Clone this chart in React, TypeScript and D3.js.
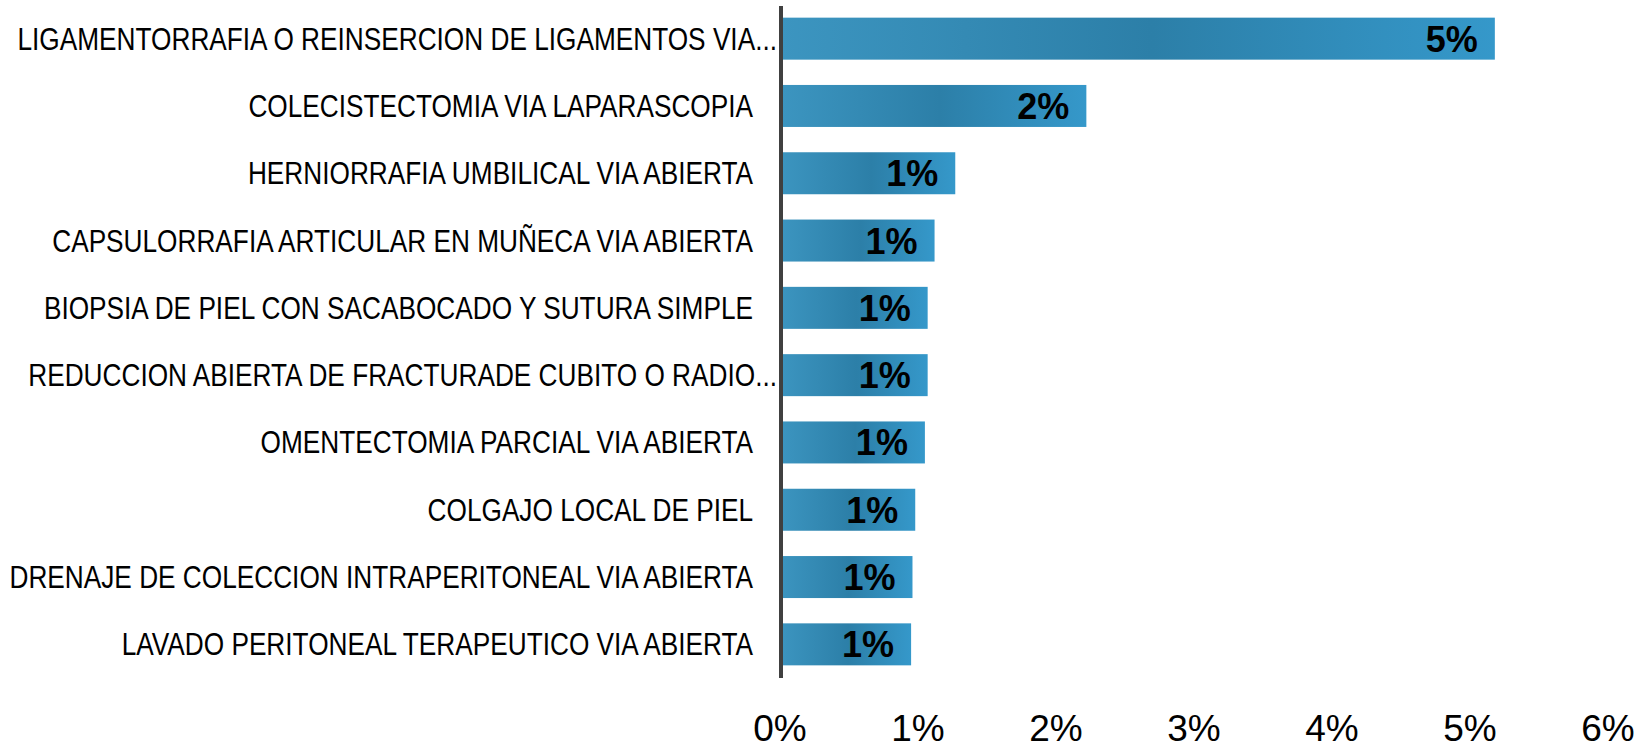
import { useRef, useEffect } from 'react';
import * as d3 from 'd3';

// procedimientos (top 10) y su participacion en %
const categories = [
  'LIGAMENTORRAFIA O REINSERCION DE LIGAMENTOS VIA...',
  'COLECISTECTOMIA VIA LAPARASCOPIA',
  'HERNIORRAFIA UMBILICAL VIA ABIERTA',
  'CAPSULORRAFIA ARTICULAR EN MUÑECA VIA ABIERTA',
  'BIOPSIA DE PIEL CON SACABOCADO Y SUTURA SIMPLE',
  'REDUCCION ABIERTA DE FRACTURADE CUBITO O RADIO...',
  'OMENTECTOMIA PARCIAL VIA ABIERTA',
  'COLGAJO LOCAL DE PIEL',
  'DRENAJE DE COLECCION INTRAPERITONEAL VIA ABIERTA',
  'LAVADO PERITONEAL TERAPEUTICO VIA ABIERTA',
];
const values = [5.18, 2.22, 1.27, 1.12, 1.07, 1.07, 1.05, 0.98, 0.96, 0.95];
const ticks = [0, 1, 2, 3, 4, 5, 6];

const W = 1642;
const H = 749;

export default function App() {
  const svgRef = useRef<SVGSVGElement>(null);

  useEffect(() => {
    const svg = d3.select(svgRef.current);
    svg.selectAll('*').remove();

    const x = d3.scaleLinear().domain([0, 6]).range([780, 1608]);
    const y = d3.scaleBand<string>().domain(categories).range([5, 678])
      .paddingInner(0.376).paddingOuter(0.188);

    // gradiente de la barra: claro - oscuro - claro
    const grad = svg.append('defs').append('linearGradient')
      .attr('id', 'barGrad').attr('x1', '0%').attr('x2', '100%').attr('y1', '0%').attr('y2', '0%');
    grad.append('stop').attr('offset', '0%').attr('stop-color', '#3c95c0');
    grad.append('stop').attr('offset', '52%').attr('stop-color', '#2c7fa8');
    grad.append('stop').attr('offset', '100%').attr('stop-color', '#3598ca');

    const data = categories.map((c, i) => ({ name: c, value: values[i] }));

    svg.append('g')
      .selectAll('rect')
      .data(data)
      .join('rect')
      .attr('x', x(0))
      .attr('y', d => y(d.name)!)
      .attr('width', d => x(d.value) - x(0))
      .attr('height', y.bandwidth())
      .attr('fill', 'url(#barGrad)');

    // etiquetas de valor
    svg.append('g')
      .selectAll('text')
      .data(data)
      .join('text')
      .attr('x', d => x(d.value) - 17)
      .attr('y', d => y(d.name)! + y.bandwidth() / 2 + 13)
      .attr('text-anchor', 'end')
      .attr('font-family', '"Liberation Sans", Arial, sans-serif')
      .attr('font-weight', 'bold')
      .attr('font-size', 36)
      .attr('fill', '#000')
      .text(d => Math.round(d.value) + '%');

    // etiquetas de categorias (fuente estrecha simulada con escala horizontal)
    svg.append('g')
      .selectAll('text')
      .data(data)
      .join('text')
      .attr('transform', d => {
        const tx = d.name.endsWith('...') ? 777 : 753;
        const ty = y(d.name)! + y.bandwidth() / 2 + 11;
        return `translate(${tx},${ty}) scale(0.846,1)`;
      })
      .attr('text-anchor', 'end')
      .attr('font-family', '"Liberation Sans", Arial, sans-serif')
      .attr('font-size', 31)
      .attr('fill', '#000')
      .text(d => d.name);

    // eje vertical
    svg.append('line')
      .attr('x1', x(0) + 1).attr('x2', x(0) + 1)
      .attr('y1', 6).attr('y2', 678)
      .attr('stroke', '#404040')
      .attr('stroke-width', 4);

    // ticks eje x
    svg.append('g')
      .selectAll('text')
      .data(ticks)
      .join('text')
      .attr('x', d => x(d))
      .attr('y', 741)
      .attr('text-anchor', 'middle')
      .attr('font-family', '"Liberation Sans", Arial, sans-serif')
      .attr('font-size', 37)
      .attr('fill', '#000')
      .text(d => d + '%');
  }, []);

  return (
    <div style={{ position: 'absolute', left: 0, top: 0 }}>
      <svg ref={svgRef} width={W} height={H} style={{ display: 'block', background: '#fff' }} />
    </div>
  );
}
